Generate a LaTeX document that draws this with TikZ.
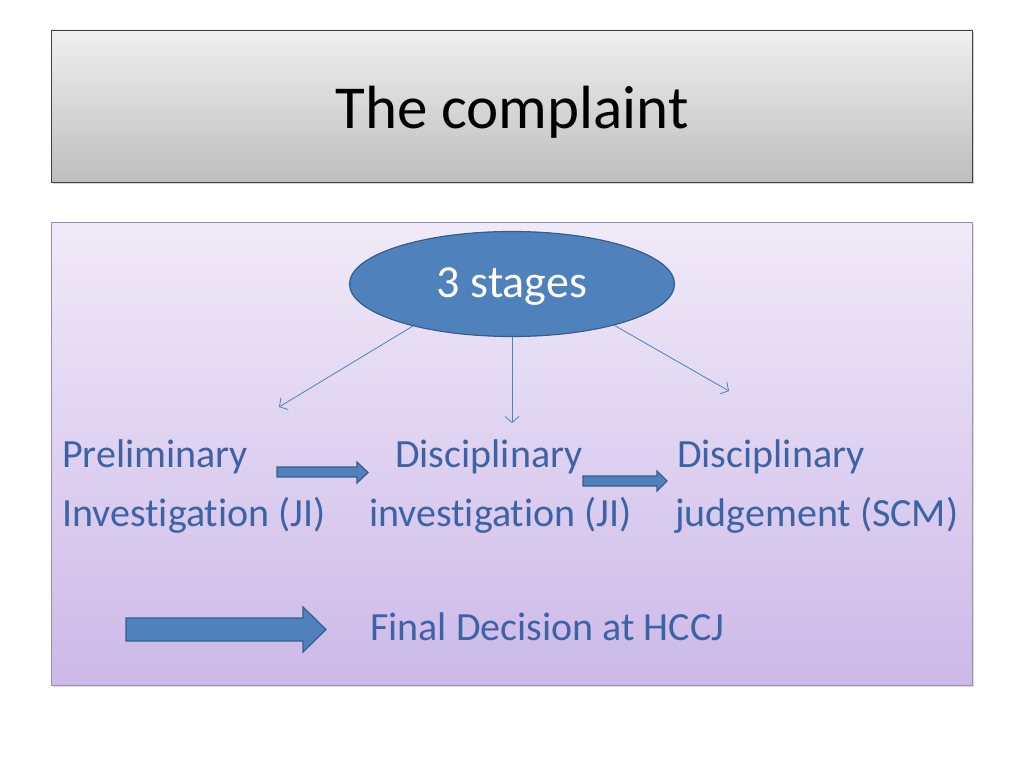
\documentclass[tikz,border=0pt]{standalone}
\usepackage{fontspec}
\setmainfont[Ligatures=NoCommon]{Carlito}
\usetikzlibrary{shapes.geometric,arrows.meta,shadows}
\definecolor{titletop}{RGB}{240,240,240}
\definecolor{titlebot}{RGB}{190,190,190}
\definecolor{boxtop}{RGB}{240,234,248}
\definecolor{boxbot}{RGB}{204,185,232}
\definecolor{boxline}{RGB}{150,140,190}
\definecolor{accent}{RGB}{79,129,189}
\definecolor{accentline}{RGB}{56,93,138}
\definecolor{txtblue}{RGB}{61,99,166}
\tikzset{
  titlebox/.style={draw=black!75, line width=0.8pt, top color=titletop, bottom color=titlebot,
    drop shadow={opacity=0.35, shadow xshift=1.5pt, shadow yshift=-2pt}},
  contentbox/.style={draw=boxline, line width=0.8pt, top color=boxtop, bottom color=boxbot,
    drop shadow={opacity=0.25, shadow xshift=1.5pt, shadow yshift=-2pt}},
  stagebubble/.style={ellipse, fill=accent, draw=accentline, line width=1.2pt,
    minimum width=325pt, minimum height=105pt, inner sep=0pt},
  bubbletext/.style={text=white, font=\fontsize{46}{52}\selectfont, inner sep=0pt, anchor=base},
  thinarrow/.style={draw=accent, line width=0.8pt, -{Straight Barb[length=6pt,width=14pt]}},
  blockarrow/.style={fill=accent, draw=accentline, line width=1.2pt, line join=miter},
  bodytext/.style={text=txtblue, font=\fontsize{40}{48}\selectfont, inner sep=0pt, anchor=base west},
  headtext/.style={text=black, font=\fontsize{61}{70}\selectfont, inner sep=0pt, anchor=base}
}
\begin{document}
\begin{tikzpicture}[x=1pt,y=-1pt]
\useasboundingbox (0,0) rectangle (1024,768);
% title
\draw[titlebox] (51,30) rectangle (972,182);
\node[headtext] (title) at (512,128) {The complaint};
% content box
\draw[contentbox] (51,222) rectangle (972,685);
% ellipse
\node[stagebubble] (st) at (512,284) {};
\node[bubbletext] (stl) at (512,297) {3 stages};
% arrow end points
\coordinate (e1) at (279,407);
\coordinate (e2) at (512,423);
\coordinate (e3) at (729,391);
\draw[thinarrow] (st.203) -- (e1);
\draw[thinarrow] (st.south) -- (e2);
\draw[thinarrow] (st.338.7) -- (e3);
% texts
\node[bodytext] (p1) at (62,467) {Preliminary};
\node[bodytext] (p2) at (62,526) {Investigation (JI)};
\node[bodytext] (d1) at (395,467) {Disciplinary};
\node[bodytext] (d2) at (369,526) {investigation (JI)};
\node[bodytext] (j1) at (677,467) {Disciplinary};
\node[bodytext] (j2) at (675,526) {judgement (SCM)};
\node[bodytext] (fin) at (370,640) {Final Decision at HCCJ};
% block arrows
\draw[blockarrow] (277,467) -- (357,467) -- (357,462) -- (368,472.5) -- (357,483) -- (357,477) -- (277,477) -- cycle;
\draw[blockarrow] (583,476) -- (657,476) -- (657,471) -- (667,481) -- (657,491) -- (657,486) -- (583,486) -- cycle;
\draw[blockarrow] (126,618) -- (303,618) -- (303,607) -- (326,629.5) -- (303,652) -- (303,641) -- (126,641) -- cycle;
\end{tikzpicture}
\end{document}
